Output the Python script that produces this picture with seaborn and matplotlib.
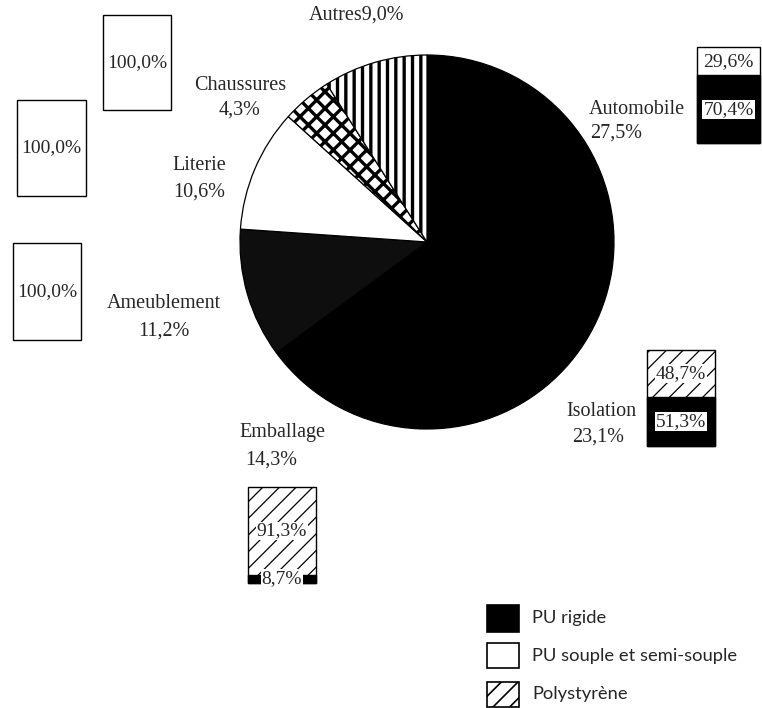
import matplotlib
matplotlib.use("Agg")
import matplotlib.pyplot as plt
import seaborn as sns
from matplotlib.patches import Rectangle

# ---------------- data ----------------
categories = ["Automobile", "Isolation", "Emballage", "Ameublement",
              "Literie", "Chaussures", "Autres"]
shares = [27.5, 23.1, 14.3, 11.2, 10.6, 4.3, 9.0]

bar_categories = ["Automobile", "Isolation", "Emballage",
                  "Ameublement", "Literie", "Chaussures"]
pu_rigide = [70.4, 51.3, 8.7, 0.0, 0.0, 0.0]
pu_souple = [29.6, 0.0, 0.0, 100.0, 100.0, 100.0]
polystyrene = [0.0, 48.7, 91.3, 0.0, 0.0, 0.0]

legend_labels = ["PU rigide", "PU souple et semi-souple", "Polystyrène"]


def fmt(v):
    return f"{v:.1f}".replace(".", ",") + "%"


# ---------------- style ----------------
sns.set_theme(style="white")
plt.rcParams["font.family"] = ["Liberation Serif", "DejaVu Serif"]

W, H = 762, 708
fig = plt.figure(figsize=(W / 100, H / 100), dpi=100)
fig.patch.set_facecolor("white")
ax = fig.add_axes([0, 0, 1, 1])


def Y(p):
    return H - p


def set_hlw(patch, lw):
    if hasattr(patch, "set_hatch_linewidth"):
        patch.set_hatch_linewidth(lw)


# ---------------- pie ----------------
slice_colors = ["black", "black", "black", "#0e0e0e", "white", "white", "white"]
slice_hatches = [None, None, None, None, None, "xx", "||"]
wedges, _ = ax.pie(shares, startangle=90, counterclock=False,
                   center=(427, Y(242)), radius=187, colors=slice_colors,
                   wedgeprops=dict(edgecolor="black", linewidth=0.9))
for w, h in zip(wedges, slice_hatches):
    if h:
        w.set_hatch(h)
        set_hlw(w, 2.4)
ax.set_xlim(0, W)
ax.set_ylim(0, H)
ax.set_aspect("auto")
ax.axis("off")

# ---------------- slice labels ----------------
FS = 14.5
name_pos = {
    "Automobile": ((637, 109), (616, 133)),
    "Isolation": ((601, 412), (598, 437)),
    "Emballage": ((282, 433), (271, 460)),
    "Ameublement": ((164, 304), (164, 331)),
    "Literie": ((199, 165), (199, 192)),
    "Chaussures": ((240, 85), (240, 110)),
}
for cat, s in zip(categories, shares):
    if cat == "Autres":
        ax.text(357, Y(15), cat + fmt(s), ha="center", va="center", fontsize=FS)
        continue
    (nx, ny), (vx, vy) = name_pos[cat]
    ax.text(nx, Y(ny), cat, ha="center", va="center", fontsize=FS)
    ax.text(vx, Y(vy), fmt(s), ha="center", va="center", fontsize=FS)

# ---------------- stacked bars (one small axes per category) ----------------
bar_boxes = {
    "Automobile": (697, 47, 760, 143),
    "Isolation": (647, 350, 715, 446),
    "Emballage": (248, 487, 316, 583),
    "Ameublement": (13, 243, 81, 340),
    "Literie": (17, 100, 86, 196),
    "Chaussures": (103, 15, 171, 110),
}
BFS = 14
for cat, r, s, p in zip(bar_categories, pu_rigide, pu_souple, polystyrene):
    x0, y0, x1, y1 = bar_boxes[cat]
    axb = fig.add_axes([x0 / W, 1 - y1 / H, (x1 - x0) / W, (y1 - y0) / H])
    total = r + s + p
    top_is_poly = p > 0
    # full bar (top segment appearance), then bottom segment over it
    sns.barplot(x=[cat], y=[total], ax=axb, color="white", saturation=1,
                width=1, edgecolor="black", linewidth=1.0,
                hatch="//" if top_is_poly else None)
    if r > 0:
        sns.barplot(x=[cat], y=[r], ax=axb, color="black", saturation=1,
                    width=1, edgecolor="black", linewidth=1.0)
    for patch in axb.patches:
        patch.set_clip_on(False)
        set_hlw(patch, 0.9)
    axb.set_xlim(-0.5, 0.5)
    axb.set_ylim(0, 100)
    axb.axis("off")
    # labels
    top_val = p if top_is_poly else s
    if top_val > 0:
        axb.text(0, r + top_val / 2, fmt(top_val), ha="center", va="center",
                 fontsize=BFS,
                 bbox=dict(facecolor="white", edgecolor="none", pad=0.5))
    if r > 0:
        axb.text(0, r / 2, fmt(r), ha="center", va="center", fontsize=BFS,
                 bbox=dict(facecolor="white", edgecolor="none", pad=0.8))

# ---------------- legend ----------------
leg_face = ["black", "white", "white"]
leg_hatch = [None, None, "//"]
leg_rows = [(605, 632), (643, 668), (682, 707)]
for lab, fc, hh, (ya, yb) in zip(legend_labels, leg_face, leg_hatch, leg_rows):
    rect = Rectangle((487, Y(yb)), 32, yb - ya, facecolor=fc,
                     edgecolor="black", linewidth=1.2, hatch=hh)
    set_hlw(rect, 1.2)
    ax.add_patch(rect)
    ax.text(532, Y((ya + yb) / 2), lab, ha="left", va="center", fontsize=13.2,
            family=["Lato", "DejaVu Sans"])

fig.savefig("out.png", dpi=100, facecolor="white")
